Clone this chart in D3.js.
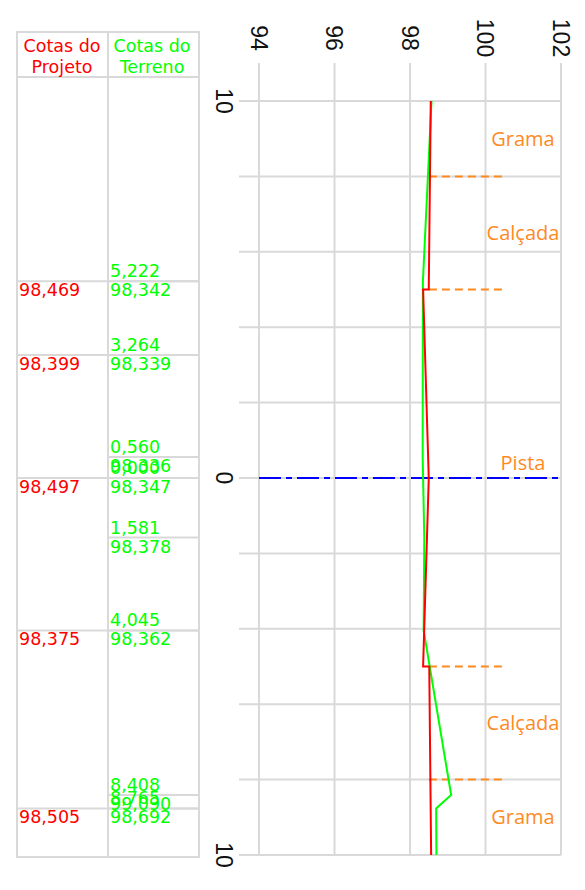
<!DOCTYPE html>
<html>
<head>
<meta charset="utf-8">
<script src="https://cdn.jsdelivr.net/npm/d3@7"></script>
<style>
  body { margin: 0; background: #fff; }
</style>
</head>
<body>
<div class="chart"></div>
<script>
var svgWidth = 585;
var svgHeight = 890;

// elevation (horizontal) and distance (vertical) ticks
var elevTicks = [94, 96, 98, 100, 102];
var distGrid = [-10, -8, -6, -4, -2, 0, 2, 4, 6, 8, 10];
var distLabels = [-10, 0, 10];

// terrain profile (green)
var terrainDist = [-10, -5.222, -3.264, -0.56, 0, 1.581, 4.045, 8.408, 8.765, 10];
var terrainElev = [98.57, 98.342, 98.339, 98.336, 98.347, 98.378, 98.362, 99.09, 98.692, 98.70];

// project profile (red)
var projDist = [-10, -5, -5, 0, 5, 5, 10];
var projElev = [98.55, 98.497, 98.347, 98.497, 98.347, 98.51, 98.56];

// project values listed in the table
var projTableDist = [-5.222, -3.264, 0, 4.045, 8.765];
var projTableElev = [98.469, 98.399, 98.497, 98.375, 98.505];

// zones
var zoneEdges = [-10, -8, -5, 5, 8, 10];
var zoneNames = ["Grama", "Calçada", "Pista", "Calçada", "Grama"];

var ptBR = d3.formatLocale({decimal: ",", thousands: ".", grouping: [3], currency: ["", ""]});
var fmt = ptBR.format(".3f");

var svg = d3.select(".chart")
  .append("svg")
  .attr("width", svgWidth)
  .attr("height", svgHeight);

var x = d3.scaleLinear().domain([94, 102]).range([259, 561]);
var y = d3.scaleLinear().domain([-10, 10]).range([101, 855]);

var gridColor = "#d9d9d9";

// vertical grid (elevation) with top tick extension
svg.append("g")
  .selectAll("line")
  .data(elevTicks)
  .enter()
  .append("line")
  .attr("x1", d => x(d)).attr("x2", d => x(d))
  .attr("y1", 63).attr("y2", y(10))
  .attr("stroke", gridColor)
  .attr("stroke-width", 2);

// horizontal grid (distance) with left tick extension
svg.append("g")
  .selectAll("line")
  .data(distGrid)
  .enter()
  .append("line")
  .attr("x1", 239).attr("x2", x(102))
  .attr("y1", d => y(d)).attr("y2", d => y(d))
  .attr("stroke", gridColor)
  .attr("stroke-width", 2);

// elevation labels (rotated)
svg.append("g")
  .selectAll("text")
  .data(elevTicks)
  .enter()
  .append("text")
  .attr("transform", d => `translate(${x(d)}, 38) rotate(90)`)
  .attr("text-anchor", "middle")
  .attr("dy", "0.35em")
  .style("font-family", "Liberation Sans, Arial, sans-serif")
  .style("font-size", "23px")
  .attr("fill", "#111")
  .text(d => d);

// distance labels (rotated)
svg.append("g")
  .selectAll("text")
  .data(distLabels)
  .enter()
  .append("text")
  .attr("transform", d => `translate(224, ${y(d)}) rotate(90)`)
  .attr("text-anchor", "middle")
  .attr("dy", "0.35em")
  .style("font-family", "Liberation Sans, Arial, sans-serif")
  .style("font-size", "23px")
  .attr("fill", "#111")
  .text(d => Math.abs(d));

// center line
svg.append("line")
  .attr("x1", x(94)).attr("x2", x(102))
  .attr("y1", y(0)).attr("y2", y(0))
  .attr("stroke", "#0000ff")
  .attr("stroke-width", 2)
  .attr("stroke-dasharray", "22,5,6,5");

// zone boundaries
var orange = "#ff8a1f";
svg.append("g")
  .selectAll("line")
  .data(zoneEdges.slice(1, -1))
  .enter()
  .append("line")
  .attr("x1", x(98.5)).attr("x2", x(100.5))
  .attr("y1", d => y(d)).attr("y2", d => y(d))
  .attr("stroke", orange)
  .attr("stroke-width", 2)
  .attr("stroke-dasharray", "8,5");

svg.append("g")
  .selectAll("text")
  .data(zoneNames)
  .enter()
  .append("text")
  .attr("x", 523)
  .attr("y", (d, i) => {
    var mid = y((zoneEdges[i] + zoneEdges[i + 1]) / 2);
    return d === "Pista" ? mid - 15 : mid;
  })
  .attr("dy", "0.35em")
  .attr("text-anchor", "middle")
  .style("font-family", "Open Sans, sans-serif")
  .style("font-size", "20px")
  .attr("fill", orange)
  .text(d => d);

// profiles
var line = d3.line().x(d => x(d[1])).y(d => y(d[0]));

svg.append("path")
  .datum(d3.zip(terrainDist, terrainElev))
  .attr("d", line)
  .attr("fill", "none")
  .attr("stroke", "#00ff00")
  .attr("stroke-width", 2);

svg.append("path")
  .datum(d3.zip(projDist, projElev))
  .attr("d", line)
  .attr("fill", "none")
  .attr("stroke", "#ff0000")
  .attr("stroke-width", 2);

// table
var tL = 17, tM = 108, tR = 199, tTop = 32, tHead = 77, tBot = y(10) + 2;
var table = svg.append("g");

table.append("rect")
  .attr("x", tL).attr("y", tTop)
  .attr("width", tR - tL).attr("height", tBot - tTop)
  .attr("fill", "none")
  .attr("stroke", gridColor)
  .attr("stroke-width", 2);

table.append("line")
  .attr("x1", tM).attr("x2", tM).attr("y1", tTop).attr("y2", tBot)
  .attr("stroke", gridColor).attr("stroke-width", 2);

table.append("line")
  .attr("x1", tL).attr("x2", tR).attr("y1", tHead).attr("y2", tHead)
  .attr("stroke", gridColor).attr("stroke-width", 2);

var tableFont = "DejaVu Sans, sans-serif";
var tableSize = "17.5px";

function header(cx, lines, color) {
  table.selectAll(null)
    .data(lines)
    .enter()
    .append("text")
    .attr("x", cx)
    .attr("y", (d, i) => 52 + i * 21)
    .attr("text-anchor", "middle")
    .style("font-family", tableFont)
    .style("font-size", tableSize)
    .attr("fill", color)
    .text(d => d);
}
header(62, ["Cotas do", "Projeto"], "#ff0000");
header(152, ["Cotas do", "Terreno"], "#00ff00");

var terrainRows = d3.zip(terrainDist, terrainElev).filter(d => Math.abs(d[0]) < 10);

// row lines
table.selectAll(null)
  .data(terrainRows)
  .enter()
  .append("line")
  .attr("x1", tM).attr("x2", tR)
  .attr("y1", d => y(d[0])).attr("y2", d => y(d[0]))
  .attr("stroke", gridColor).attr("stroke-width", 2);

table.selectAll(null)
  .data(projTableDist)
  .enter()
  .append("line")
  .attr("x1", tL).attr("x2", tR)
  .attr("y1", d => y(d)).attr("y2", d => y(d))
  .attr("stroke", gridColor).attr("stroke-width", 2);

// terrain texts
table.selectAll(null)
  .data(terrainRows)
  .enter()
  .append("text")
  .attr("x", 110)
  .attr("y", d => y(d[0]) - 4)
  .style("font-family", tableFont)
  .style("font-size", tableSize)
  .attr("fill", "#00ff00")
  .text(d => fmt(Math.abs(d[0])));

table.selectAll(null)
  .data(terrainRows)
  .enter()
  .append("text")
  .attr("x", 110)
  .attr("y", d => y(d[0]) + 15)
  .style("font-family", tableFont)
  .style("font-size", tableSize)
  .attr("fill", "#00ff00")
  .text(d => fmt(d[1]));

// project texts
table.selectAll(null)
  .data(d3.zip(projTableDist, projTableElev))
  .enter()
  .append("text")
  .attr("x", 19)
  .attr("y", d => y(d[0]) + 15)
  .style("font-family", tableFont)
  .style("font-size", tableSize)
  .attr("fill", "#ff0000")
  .text(d => fmt(d[1]));
</script>
</body>
</html>
